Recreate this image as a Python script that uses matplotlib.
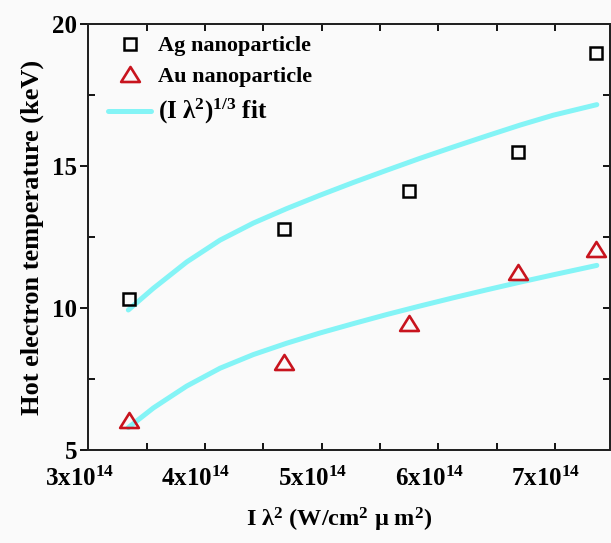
import matplotlib
matplotlib.use("Agg")
import matplotlib.pyplot as plt
from matplotlib.lines import Line2D
from matplotlib.path import Path
from matplotlib.transforms import ScaledTranslation

plt.rcParams['font.family'] = ['Liberation Serif', 'DejaVu Serif']
plt.rcParams['font.weight'] = 'bold'
plt.rcParams['mathtext.fontset'] = 'custom'
plt.rcParams['mathtext.rm'] = 'Liberation Serif:bold'
plt.rcParams['mathtext.bf'] = 'Liberation Serif:bold'
plt.rcParams['mathtext.it'] = 'Liberation Serif:bold'
plt.rcParams['mathtext.default'] = 'rm'

# ---- data ----
x_pts = [3.35e14, 4.68e14, 5.75e14, 6.68e14, 7.35e14]
ag_temp = [10.32, 12.78, 14.13, 15.50, 18.99]
au_temp = [6.05, 8.09, 9.47, 11.27, 12.08]

fit_x = [3.343e14, 3.557e14, 3.843e14, 4.129e14, 4.414e14, 4.700e14, 4.985e14,
         5.271e14, 5.557e14, 5.842e14, 6.128e14, 6.414e14, 6.699e14, 6.985e14, 7.357e14]
ag_fit = [9.93, 10.69, 11.62, 12.39, 12.99, 13.50, 13.97,
          14.42, 14.85, 15.27, 15.67, 16.06, 16.44, 16.79, 17.16]
au_fit = [5.79, 6.48, 7.25, 7.88, 8.36, 8.76, 9.12,
          9.45, 9.77, 10.07, 10.36, 10.64, 10.91, 11.17, 11.50]

x_ticks = [3e14, 4e14, 5e14, 6e14, 7e14]
x_tick_labels = [r'3x10$^{14}$', r'4x10$^{14}$', r'5x10$^{14}$', r'6x10$^{14}$', r'7x10$^{14}$']
y_ticks = [5, 10, 15, 20]

labels = ['Ag nanoparticle', 'Au nanoparticle', r'(I $\lambda^{2})^{1/3}$ fit']

# ---- styling ----
bg = '#FAFAFA'
cyan = '#84F4F6'
red = '#C8141E'

W, H = 611, 543
fig = plt.figure(figsize=(W / 100, H / 100), dpi=100, facecolor=bg)
left, right, top, bottom = 88.3, 610, 24, 450
ax = fig.add_axes([left / W, 1 - bottom / H, (right - left) / W, (bottom - top) / H])
ax.set_facecolor(bg)

tri = Path([(-1.0, -0.8), (1.0, -0.8), (0.0, 0.8), (-1.0, -0.8)], closed=True)

line_kw = dict(color=cyan, lw=3.6, solid_capstyle='round', solid_joinstyle='round')
sq_kw = dict(ls='none', marker='s', ms=8, mfc='none', mec='black', mew=1.8)
tri_kw = dict(ls='none', marker=tri, ms=13.5, mfc='none', mec=red, mew=1.9)

ax.plot(fit_x, ag_fit, zorder=2, **line_kw)
ax.plot(fit_x, au_fit, zorder=2, **line_kw)
ax.plot(x_pts, ag_temp, zorder=3, **sq_kw)
ax.plot(x_pts, au_temp, zorder=3, **tri_kw)

ax.set_xlim(3e14, 7.47e14)
ax.set_ylim(5, 20)
ax.set_xticks(x_ticks)
ax.set_xticklabels(x_tick_labels, fontsize=18, fontweight='bold')
ax.set_xticks([3.5e14, 4.5e14, 5.5e14, 6.5e14], minor=True)
ax.set_yticks(y_ticks)
ax.set_yticklabels([str(v) for v in y_ticks], fontsize=18, fontweight='bold')
ax.set_yticks([7.5, 12.5, 17.5], minor=True)

ax.tick_params(axis='x', which='both', direction='in', top=True, length=5, width=1.3, pad=12)
ax.tick_params(axis='y', which='major', direction='out', length=6, width=1.3, pad=2)
ax.tick_params(axis='y', which='minor', direction='in', length=5, width=1.3)

shift = ScaledTranslation(-9 / 100, 0, fig.dpi_scale_trans)
for lab in ax.get_xticklabels():
    lab.set_transform(lab.get_transform() + shift)

ax2 = ax.twinx()
ax2.set_ylim(5, 20)
ax2.set_yticks([5, 7.5, 10, 12.5, 15, 17.5, 20])
ax2.tick_params(axis='y', direction='in', length=5, width=1.3, labelright=False)

for a in (ax, ax2):
    for s in a.spines.values():
        s.set_linewidth(1.4)
        s.set_color('#222222')

ax.set_ylabel('Hot electron temperature (keV)', fontsize=19, fontweight='bold', labelpad=6)
ax.set_xlabel(r'I $\lambda^{2}$ (W/cm$^{2}$ $\mu$ m$^{2}$)', fontsize=17.5, fontweight='bold')
ax.xaxis.set_label_coords(0.48, -0.132)

handles = [
    Line2D([], [], **sq_kw),
    Line2D([], [], **tri_kw),
    Line2D([], [], **line_kw),
]
leg = ax.legend(handles, labels, loc='upper left', bbox_to_anchor=(0.038, 0.972),
                frameon=False, handlelength=1.95, handletextpad=0.3,
                labelspacing=0.45, borderpad=0, borderaxespad=0,
                prop={'family': 'Liberation Serif', 'weight': 'bold', 'size': 16})
leg.get_texts()[2].set_fontsize(18)

fig.savefig('out.png', dpi=100, facecolor=bg)
